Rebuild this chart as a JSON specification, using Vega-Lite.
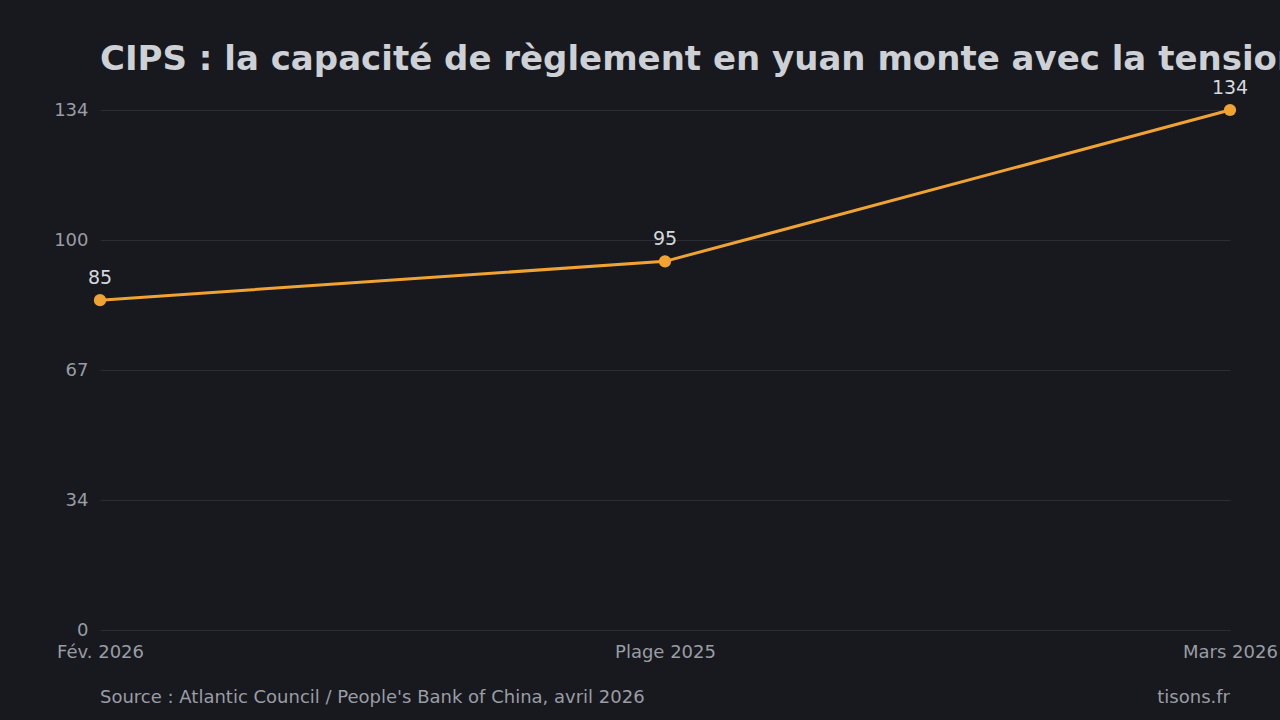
{
  "$schema": "https://vega.github.io/schema/vega-lite/v6.json",
  "width": 1130,
  "height": 520,
  "autosize": {"type": "none"},
  "padding": {"left": 100, "top": 110, "right": 50, "bottom": 90},
  "background": "#17191e",
  "title": {
    "text": "CIPS : la capacité de règlement en yuan monte avec la tension",
    "anchor": "start",
    "frame": "group",
    "font": "DejaVu Sans",
    "fontSize": 34,
    "fontWeight": "bold",
    "color": "#cdd0d5",
    "offset": 2,
    "limit": 3000
  },
  "config": {
    "view": {"stroke": null},
    "font": "DejaVu Sans"
  },
  "data": {
    "values": [
      {"periode": "Fév. 2026", "valeur": 85},
      {"periode": "Plage 2025", "valeur": 95},
      {"periode": "Mars 2026", "valeur": 134}
    ]
  },
  "encoding": {
    "x": {
      "field": "periode",
      "type": "ordinal",
      "sort": null,
      "scale": {"type": "point", "padding": 0},
      "axis": {
        "title": null,
        "labelAngle": 0,
        "domain": false,
        "ticks": false,
        "grid": false,
        "labelFont": "DejaVu Sans",
        "labelFontSize": 18,
        "labelColor": "#9a9da4",
        "labelPadding": 13
      }
    },
    "y": {
      "field": "valeur",
      "type": "quantitative",
      "scale": {"domain": [0, 134], "nice": false, "zero": true},
      "axis": {
        "title": null,
        "values": [0, 33.5, 67, 100.5, 134],
        "labelExpr": "datum.value == 100.5 ? '100' : format(datum.value, '.0f')",
        "domain": false,
        "ticks": false,
        "grid": true,
        "gridColor": "#2a2d33",
        "gridWidth": 1,
        "labelFont": "DejaVu Sans",
        "labelFontSize": 18,
        "labelColor": "#9a9da4",
        "labelPadding": 12
      }
    }
  },
  "layer": [
    {
      "mark": {"type": "line", "color": "#f0a232", "strokeWidth": 3}
    },
    {
      "mark": {"type": "point", "filled": true, "color": "#f0a232", "size": 150, "opacity": 1}
    },
    {
      "mark": {"type": "text", "dy": -22, "fontSize": 19, "color": "#d5d8dc", "font": "DejaVu Sans"},
      "encoding": {"text": {"field": "valeur", "type": "quantitative"}}
    },
    {
      "data": {"values": [{"texte": "Source : Atlantic Council / People's Bank of China, avril 2026", "periode": "Fév. 2026", "valeur": 0}]},
      "mark": {"type": "text", "align": "left", "baseline": "middle", "dy": 68, "fontSize": 18, "color": "#9a9da4", "font": "DejaVu Sans"},
      "encoding": {"text": {"field": "texte"}}
    },
    {
      "data": {"values": [{"texte": "tisons.fr", "periode": "Mars 2026", "valeur": 0}]},
      "mark": {"type": "text", "align": "right", "baseline": "middle", "dy": 68, "fontSize": 18, "color": "#9a9da4", "font": "DejaVu Sans"},
      "encoding": {"text": {"field": "texte"}}
    }
  ]
}
